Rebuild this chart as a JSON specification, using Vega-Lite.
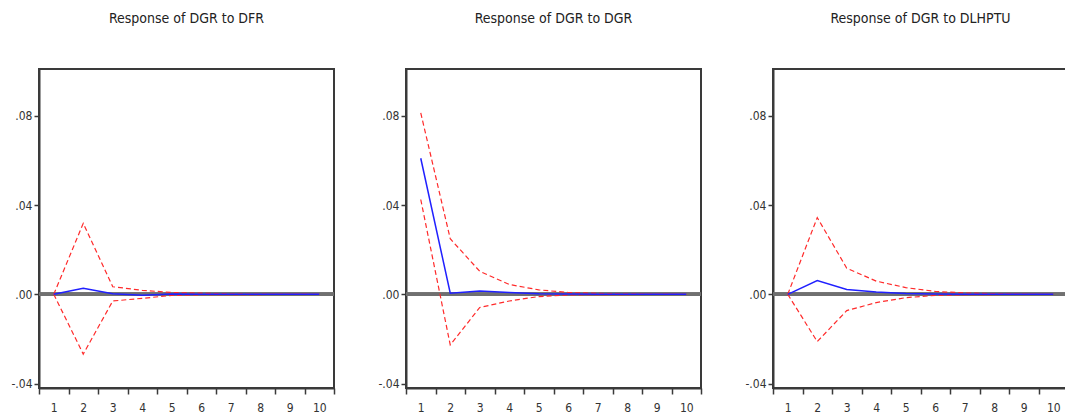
{
  "$schema": "https://vega.github.io/schema/vega-lite/v6.json",
  "autosize": "pad",
  "padding": {"left": 9, "top": 11, "right": 0, "bottom": 0},
  "background": "white",
  "datasets": {
    "irf": [
      {"panel": "DFR", "period": 1, "resp": 0.0, "lo": 0.0, "hi": 0.0},
      {"panel": "DFR", "period": 2, "resp": 0.0027, "lo": -0.0268, "hi": 0.0318},
      {"panel": "DFR", "period": 3, "resp": 0.0003, "lo": -0.003, "hi": 0.0034},
      {"panel": "DFR", "period": 4, "resp": -0.0004, "lo": -0.0018, "hi": 0.0018},
      {"panel": "DFR", "period": 5, "resp": 0.0001, "lo": -0.0005, "hi": 0.0008},
      {"panel": "DFR", "period": 6, "resp": 0.0, "lo": -0.0002, "hi": 0.0005},
      {"panel": "DFR", "period": 7, "resp": 0.0, "lo": -0.0001, "hi": 0.0002},
      {"panel": "DFR", "period": 8, "resp": 0.0, "lo": -0.0001, "hi": 0.0001},
      {"panel": "DFR", "period": 9, "resp": 0.0, "lo": 0.0, "hi": 0.0001},
      {"panel": "DFR", "period": 10, "resp": 0.0, "lo": 0.0, "hi": 0.0},
      {"panel": "DGR", "period": 1, "resp": 0.061, "lo": 0.0425, "hi": 0.0813},
      {"panel": "DGR", "period": 2, "resp": 0.0005, "lo": -0.0227, "hi": 0.0249},
      {"panel": "DGR", "period": 3, "resp": 0.0015, "lo": -0.0059, "hi": 0.0103},
      {"panel": "DGR", "period": 4, "resp": 0.0008, "lo": -0.003, "hi": 0.0044},
      {"panel": "DGR", "period": 5, "resp": 0.0003, "lo": -0.001, "hi": 0.002},
      {"panel": "DGR", "period": 6, "resp": 0.0001, "lo": -0.0003, "hi": 0.0008},
      {"panel": "DGR", "period": 7, "resp": 0.0, "lo": -0.0001, "hi": 0.0004},
      {"panel": "DGR", "period": 8, "resp": 0.0, "lo": -0.0001, "hi": 0.0002},
      {"panel": "DGR", "period": 9, "resp": 0.0, "lo": 0.0, "hi": 0.0001},
      {"panel": "DGR", "period": 10, "resp": 0.0, "lo": 0.0, "hi": 0.0},
      {"panel": "DLHPTU", "period": 1, "resp": 0.0, "lo": 0.0, "hi": 0.0},
      {"panel": "DLHPTU", "period": 2, "resp": 0.0062, "lo": -0.0212, "hi": 0.0344},
      {"panel": "DLHPTU", "period": 3, "resp": 0.0022, "lo": -0.0073, "hi": 0.0117},
      {"panel": "DLHPTU", "period": 4, "resp": 0.001, "lo": -0.0037, "hi": 0.0059},
      {"panel": "DLHPTU", "period": 5, "resp": 0.0004, "lo": -0.0015, "hi": 0.003},
      {"panel": "DLHPTU", "period": 6, "resp": 0.0001, "lo": -0.0005, "hi": 0.0013},
      {"panel": "DLHPTU", "period": 7, "resp": 0.0, "lo": -0.0002, "hi": 0.0006},
      {"panel": "DLHPTU", "period": 8, "resp": 0.0, "lo": -0.0001, "hi": 0.0003},
      {"panel": "DLHPTU", "period": 9, "resp": 0.0, "lo": 0.0, "hi": 0.0001},
      {"panel": "DLHPTU", "period": 10, "resp": 0.0, "lo": 0.0, "hi": 0.0}
    ]
  },
  "data": {"name": "irf"},
  "config": {
    "font": "DejaVu Sans Condensed, Liberation Sans, sans-serif",
    "view": {"stroke": "#3a3a3a", "strokeWidth": 2},
    "title": {"fontSize": 14, "fontWeight": "normal", "color": "#222", "offset": 43},
    "axis": {
      "domainColor": "#3a3a3a", "domainWidth": 2, "tickColor": "#3a3a3a", "tickWidth": 1.5,
      "labelFontSize": 12, "labelColor": "#333", "grid": false
    }
  },
  "hconcat": [
    {"title": "Response of DGR to DFR", "width": 295, "height": 319,
     "transform": [{"filter": "datum.panel === 'DFR'"}],
     "layer": [
      {"mark": {"type": "rule", "color": "#707070", "strokeWidth": 3}, "encoding": {"y": {"datum": 0, "type": "quantitative", "scale": {"domain": [-0.042, 0.101], "nice": false, "zero": false}, "axis": {"title": null, "values": [-0.04, 0, 0.04, 0.08], "labelExpr": "replace(replace(format(datum.value, '.2f'), '0.', '.'), '\u2212', '-')", "tickSize": 5, "labelPadding": 2}}}},
      {"mark": {"type": "line", "color": "#ff2a2a", "strokeWidth": 1.2, "strokeDash": [5, 3]}, "encoding": {"x": {"field": "period", "type": "ordinal", "scale": {"type": "band", "paddingInner": 0, "paddingOuter": 0}, "axis": {"title": null, "tickBand": "extent", "labelAngle": 0, "tickSize": 6, "labelPadding": 8}}, "y": {"field": "hi", "type": "quantitative"}}},
      {"mark": {"type": "line", "color": "#ff2a2a", "strokeWidth": 1.2, "strokeDash": [5, 3]}, "encoding": {"x": {"field": "period", "type": "ordinal"}, "y": {"field": "lo", "type": "quantitative"}}},
      {"mark": {"type": "line", "color": "#2020ff", "strokeWidth": 1.5}, "encoding": {"x": {"field": "period", "type": "ordinal"}, "y": {"field": "resp", "type": "quantitative"}}}
     ]},
    {"title": "Response of DGR to DGR", "width": 295, "height": 319,
     "transform": [{"filter": "datum.panel === 'DGR'"}],
     "layer": [
      {"mark": {"type": "rule", "color": "#707070", "strokeWidth": 3}, "encoding": {"y": {"datum": 0, "type": "quantitative", "scale": {"domain": [-0.042, 0.101], "nice": false, "zero": false}, "axis": {"title": null, "values": [-0.04, 0, 0.04, 0.08], "labelExpr": "replace(replace(format(datum.value, '.2f'), '0.', '.'), '\u2212', '-')", "tickSize": 5, "labelPadding": 2}}}},
      {"mark": {"type": "line", "color": "#ff2a2a", "strokeWidth": 1.2, "strokeDash": [5, 3]}, "encoding": {"x": {"field": "period", "type": "ordinal", "scale": {"type": "band", "paddingInner": 0, "paddingOuter": 0}, "axis": {"title": null, "tickBand": "extent", "labelAngle": 0, "tickSize": 6, "labelPadding": 8}}, "y": {"field": "hi", "type": "quantitative"}}},
      {"mark": {"type": "line", "color": "#ff2a2a", "strokeWidth": 1.2, "strokeDash": [5, 3]}, "encoding": {"x": {"field": "period", "type": "ordinal"}, "y": {"field": "lo", "type": "quantitative"}}},
      {"mark": {"type": "line", "color": "#2020ff", "strokeWidth": 1.5}, "encoding": {"x": {"field": "period", "type": "ordinal"}, "y": {"field": "resp", "type": "quantitative"}}}
     ]},
    {"title": "Response of DGR to DLHPTU", "width": 295, "height": 319,
     "transform": [{"filter": "datum.panel === 'DLHPTU'"}],
     "layer": [
      {"mark": {"type": "rule", "color": "#707070", "strokeWidth": 3}, "encoding": {"y": {"datum": 0, "type": "quantitative", "scale": {"domain": [-0.042, 0.101], "nice": false, "zero": false}, "axis": {"title": null, "values": [-0.04, 0, 0.04, 0.08], "labelExpr": "replace(replace(format(datum.value, '.2f'), '0.', '.'), '\u2212', '-')", "tickSize": 5, "labelPadding": 2}}}},
      {"mark": {"type": "line", "color": "#ff2a2a", "strokeWidth": 1.2, "strokeDash": [5, 3]}, "encoding": {"x": {"field": "period", "type": "ordinal", "scale": {"type": "band", "paddingInner": 0, "paddingOuter": 0}, "axis": {"title": null, "tickBand": "extent", "labelAngle": 0, "tickSize": 6, "labelPadding": 8}}, "y": {"field": "hi", "type": "quantitative"}}},
      {"mark": {"type": "line", "color": "#ff2a2a", "strokeWidth": 1.2, "strokeDash": [5, 3]}, "encoding": {"x": {"field": "period", "type": "ordinal"}, "y": {"field": "lo", "type": "quantitative"}}},
      {"mark": {"type": "line", "color": "#2020ff", "strokeWidth": 1.5}, "encoding": {"x": {"field": "period", "type": "ordinal"}, "y": {"field": "resp", "type": "quantitative"}}}
     ]}
  ],
  "spacing": 72,
  "bounds": "flush"
}
